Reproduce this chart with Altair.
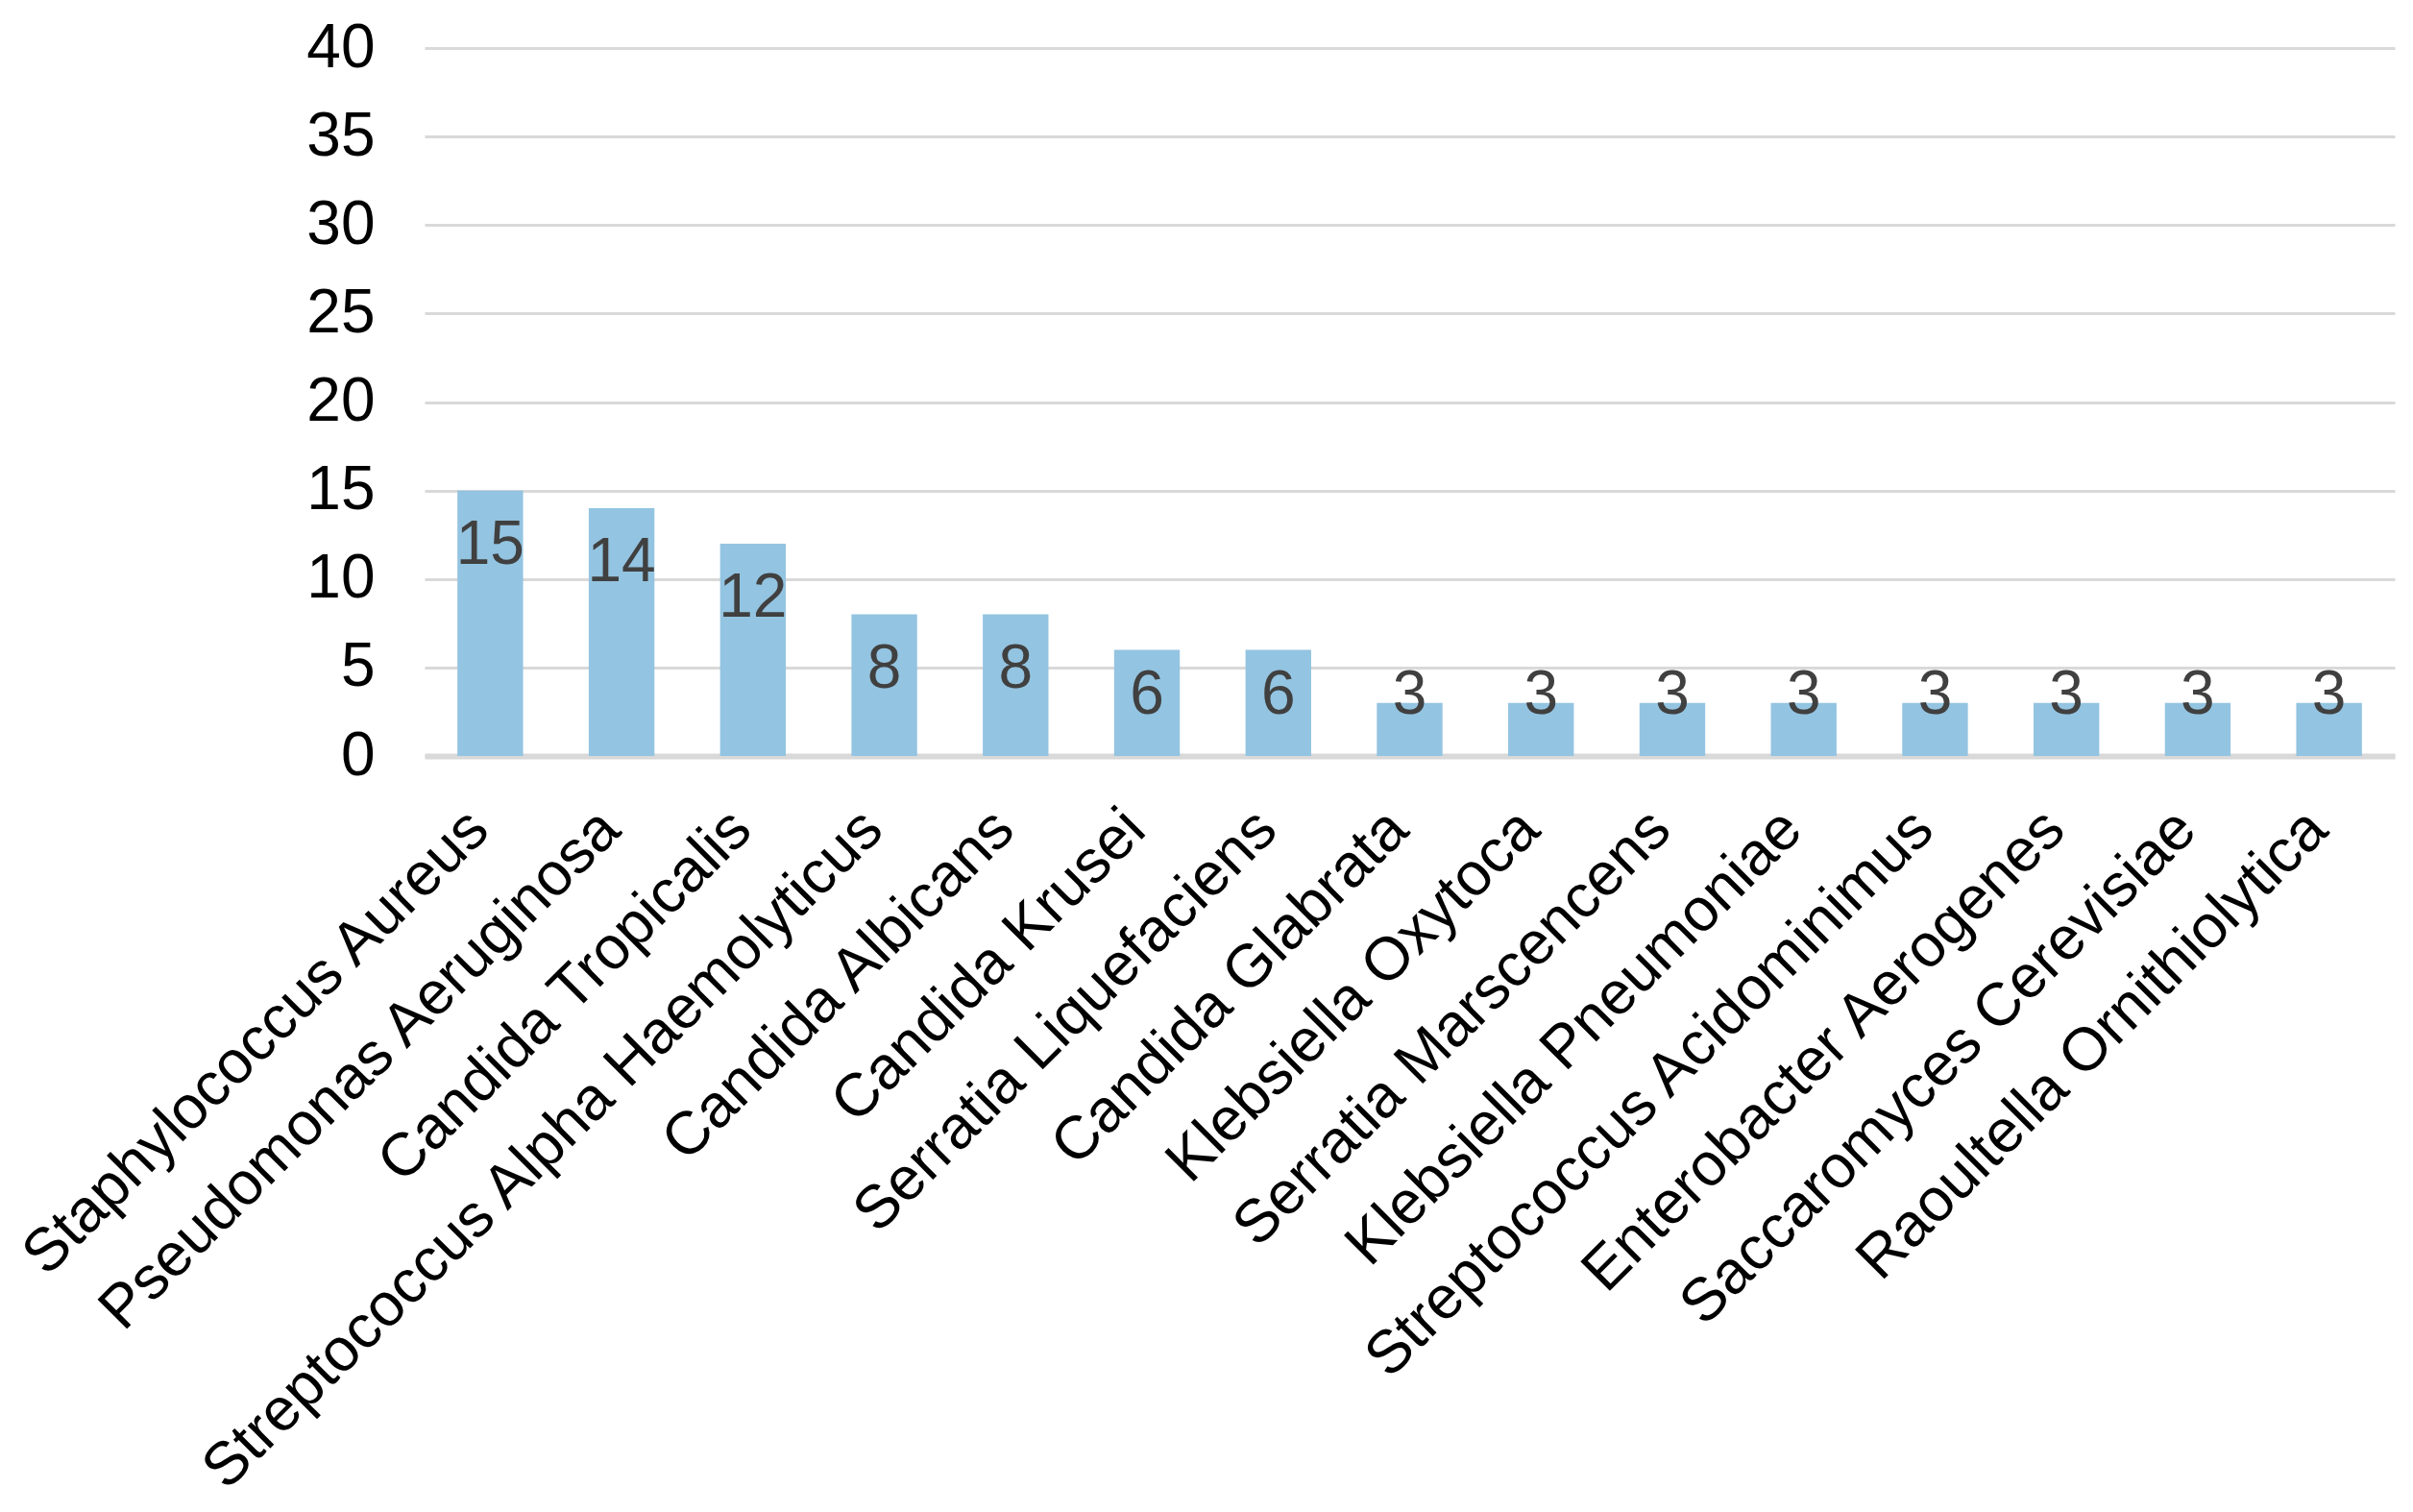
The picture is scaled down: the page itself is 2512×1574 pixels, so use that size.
import altair as alt
import pandas as pd

species = [
    "Staphylococcus Aureus",
    "Pseudomonas Aeruginosa",
    "Candida Tropicalis",
    "Streptococcus Alpha Haemolyticus",
    "Candida Albicans",
    "Candida Krusei",
    "Serratia Liquefaciens",
    "Candida Glabrata",
    "Klebsiella Oxytoca",
    "Serratia Marscencens",
    "Klebsiella Pneumoniae",
    "Streptococcus Acidominimus",
    "Enterobacter Aerogenes",
    "Saccaromyces Cerevisiae",
    "Raoultella Ornithiolytica",
]
counts = [15, 14, 12, 8, 8, 6, 6, 3, 3, 3, 3, 3, 3, 3, 3]
y_ticks = [0, 5, 10, 15, 20, 25, 30, 35, 40]

df = pd.DataFrame({"species": species, "count": counts})

FONT = "Liberation Sans"

x_enc = alt.X(
    "species:N",
    sort=species,
    scale=alt.Scale(paddingInner=0.5, paddingOuter=0.25),
    axis=alt.Axis(
        title=None,
        labelAngle=315,
        labelAlign="right",
        labelBaseline="middle",
        labelFont=FONT,
        labelFontSize=63,
        labelColor="#000000",
        labelPadding=66,
        labelOffset=-12,
        labelLimit=0,
        ticks=False,
        domain=True,
        domainColor="#d9d9d9",
        domainWidth=6,
        grid=False,
    ),
)

y_enc = alt.Y(
    "count:Q",
    scale=alt.Scale(domain=[0, 40], nice=False),
    axis=alt.Axis(
        title=None,
        values=y_ticks,
        labelFont=FONT,
        labelFontSize=64,
        labelColor="#000000",
        labelPadding=52,
        ticks=False,
        domain=False,
        grid=True,
        gridColor="#d9d9d9",
        gridWidth=3,
    ),
)

bars = alt.Chart(df).mark_bar(color="#93C4E1").encode(x=x_enc, y=y_enc)

labels = (
    alt.Chart(df)
    .transform_calculate(ly="max(datum.count - 3.1, 3.42)")
    .mark_text(font=FONT, fontSize=64, color="#404040", baseline="middle", align="center")
    .encode(
        x=alt.X("species:N", sort=species),
        y=alt.Y("ly:Q"),
        text=alt.Text("count:Q"),
    )
)

chart = (
    alt.layer(bars, labels)
    .properties(
        width=2051,
        height=737,
        padding={"left": 434, "top": 42, "right": 8, "bottom": 776},
        autosize=alt.AutoSizeParams(type="none"),
        background="white",
    )
    .configure_view(stroke=None)
)

chart.save("out.html", embed_options={"renderer": "svg", "actions": False})
